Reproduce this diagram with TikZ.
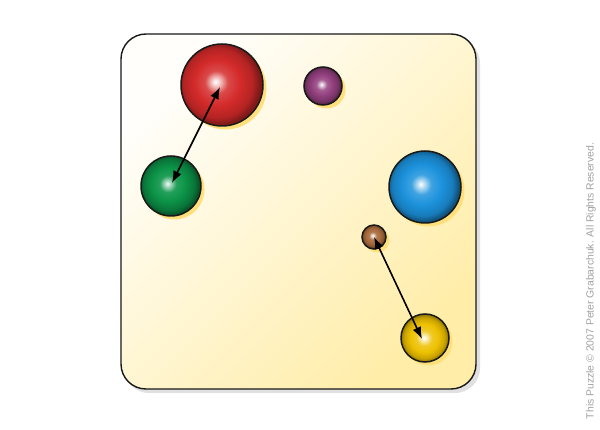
\documentclass[tikz,border=0pt]{standalone}
\usepackage{fontspec}
\setsansfont{Liberation Sans}
\usetikzlibrary{arrows.meta,shadows}
\definecolor{boxtl}{HTML}{FFFEFA}
\definecolor{boxbr}{HTML}{FFEDA8}
\definecolor{shadowy}{HTML}{FFE07A}
\definecolor{copygray}{HTML}{A0A0A0}
\definecolor{rd}{HTML}{D42A2A}
\pgfdeclareradialshading{redball}{\pgfpoint{-4bp}{2bp}}{color(0bp)=(white); color(2bp)=(white!80!rd); color(7bp)=(white!15!rd); color(14bp)=(rd); color(21bp)=(rd!85!black); color(25bp)=(rd!60!black); color(50bp)=(rd!60!black)}
\definecolor{pur}{HTML}{93407E}
\pgfdeclareradialshading{purball}{\pgfpoint{-2bp}{2bp}}{color(0bp)=(white); color(2bp)=(white!75!pur); color(7bp)=(white!15!pur); color(14bp)=(pur); color(21bp)=(pur!80!black); color(25bp)=(pur!55!black); color(50bp)=(pur!55!black)}
\definecolor{grn}{HTML}{0C9448}
\pgfdeclareradialshading{grnball}{\pgfpoint{-3bp}{2bp}}{color(0bp)=(white!90!cyan); color(2bp)=(white!70!grn); color(7bp)=(white!10!grn); color(14bp)=(grn); color(21bp)=(grn!80!black); color(25bp)=(grn!55!black); color(50bp)=(grn!55!black)}
\definecolor{blu}{HTML}{1C92DC}
\pgfdeclareradialshading{bluball}{\pgfpoint{-3bp}{2bp}}{color(0bp)=(white); color(2bp)=(white!75!blu); color(7bp)=(white!15!blu); color(14bp)=(blu); color(21bp)=(blu!85!black); color(25bp)=(blu!55!black); color(50bp)=(blu!55!black)}
\definecolor{brn}{HTML}{A86A3C}
\pgfdeclareradialshading{brnball}{\pgfpoint{-3bp}{3bp}}{color(0bp)=(white); color(3bp)=(white!70!brn); color(8bp)=(white!10!brn); color(15bp)=(brn); color(21bp)=(brn!80!black); color(25bp)=(brn!55!black); color(50bp)=(brn!55!black)}
\definecolor{ylw}{HTML}{EDC000}
\pgfdeclareradialshading{ylwball}{\pgfpoint{-1bp}{0bp}}{color(0bp)=(white); color(3bp)=(white!70!ylw); color(8bp)=(white!15!ylw); color(15bp)=(ylw); color(21bp)=(ylw!85!black); color(25bp)=(ylw!60!black); color(50bp)=(ylw!60!black)}
\begin{document}
\begin{tikzpicture}[x=1pt,y=-1pt,
  ball/.style={circle, draw=black!90, line width=1.5pt, inner sep=0pt, minimum size=#1,
    drop shadow={shadow xshift=3.5pt, shadow yshift=-3.5pt, fill=shadowy, opacity=1}},
  arr/.style={line width=1.6pt, {Latex[length=12pt,width=9pt]}-{Latex[length=12pt,width=9pt]}}]
\useasboundingbox (0,0) rectangle (600,430);
% box shadow
\fill[black!12, rounded corners=25pt] (124,38) rectangle (480,393);
\shade[left color=boxtl, right color=boxbr, shading angle=45, rounded corners=25pt] (121,34) rectangle (476,389);
\draw[line width=1.4pt, black!90, rounded corners=25pt] (121,34) rectangle (476,389);
% balls
\node[ball=82pt, shading=redball] (red) at (222,85) {};
\node[ball=38pt, shading=purball] (purple) at (323,86) {};
\node[ball=60pt, shading=grnball] (green) at (171,186) {};
\node[ball=72pt, shading=bluball] (blue) at (425,187) {};
\node[ball=24pt, shading=brnball] (brown) at (374,237) {};
\node[ball=48pt, shading=ylwball] (yellow) at (425,338) {};
% arrows
\draw[arr] ([shift={(1,-3)}]green.center) -- ([shift={(-2,2)}]red.center);
\draw[arr] (brown.center) -- ([shift={(-3,1)}]yellow.center);
% copyright
\node[rotate=90, font=\sffamily\fontsize{10.4}{12}\selectfont, text=copygray, inner sep=0pt] (copy) at (591,281) {This Puzzle \textcopyright\ 2007 Peter Grabarchuk. All Rights Reserved.};
\end{tikzpicture}
\end{document}
